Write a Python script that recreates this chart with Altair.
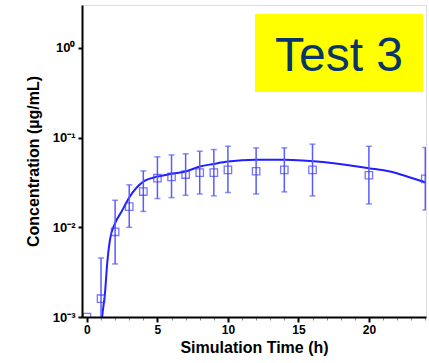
import altair as alt
import pandas as pd

# Observed data (mean, lower, upper)
obs_t = [0, 1, 2, 3, 4, 5, 6, 7, 8, 9, 10, 12, 14, 16, 20, 24]
obs_mean = [0.001, 0.0016, 0.0089, 0.017, 0.025, 0.0352, 0.0364, 0.0387, 0.0407, 0.0407, 0.0436, 0.0421, 0.0436, 0.0436, 0.038, 0.0346]
obs_lo = [None, 0.0005, 0.0039, 0.010, 0.015, 0.0209, 0.0214, 0.0227, 0.0235, 0.0224, 0.0244, 0.0235, 0.0248, 0.0224, 0.0182, 0.0156]
obs_hi = [None, 0.00455, 0.020, 0.0297, 0.0425, 0.061, 0.064, 0.0658, 0.0704, 0.0735, 0.080, 0.0767, 0.0767, 0.0843, 0.080, 0.0774]

# Simulated curve
sim_t = [1.0, 1.08, 1.28, 1.44, 1.63, 2.0, 2.46, 3, 4, 5, 6, 7, 8, 9, 10, 12, 14, 15.3, 17.5, 20, 21.5, 22.7, 24]
sim_c = [0.0007, 0.001, 0.00184, 0.0040, 0.0072, 0.0111, 0.0150, 0.0215, 0.0323, 0.0367, 0.0394, 0.0418, 0.0475, 0.0508, 0.054, 0.0564, 0.0564, 0.0555, 0.0518, 0.0456, 0.0418, 0.0368, 0.0318]

x_major = [0, 5, 10, 15, 20]
x_minor = list(range(0, 25))
y_ticks = [0.001, 0.01, 0.1, 1]
y_labels = ["10⁻³", "10⁻²", "10⁻¹", "10⁰"]
panel_label = "Test 3"

obs = pd.DataFrame({"t": obs_t, "c": obs_mean, "lo": obs_lo, "hi": obs_hi})
err = obs.dropna()
sim = pd.DataFrame({"t": sim_t, "c": sim_c})

label_expr = " : ".join(
    f"datum.value < {v * 1.5} ? '{l}'" for v, l in zip(y_ticks, y_labels)
) + " : ''"

xscale = alt.Scale(domain=[-0.35, 24.05], nice=False, zero=False)
yscale = alt.Scale(type="log", domain=[0.001, 3.0], nice=False)

xaxis = alt.Axis(
    title="Simulation Time (h)",
    orient="bottom",
    values=x_major,
    labelOverlap=False,
    labelFlush=False,
    tickSize=5,
    tickColor="black",
    tickWidth=2,
    grid=False,
    domainColor="black",
    domainWidth=2,
    labelFont="Liberation Sans",
    labelFontWeight="bold",
    labelFontSize=12,
    labelColor="black",
    labelPadding=2,
    titleFont="Liberation Sans",
    titleFontWeight="bold",
    titleFontSize=16,
    titleColor="black",
    titlePadding=4,
    zindex=2,
)

xaxis_minor = alt.Axis(
    title=None,
    orient="bottom",
    values=x_minor,
    labels=False,
    domain=False,
    tickSize=3,
    tickColor="#8a8a8a",
    tickWidth=1,
    grid=False,
    zindex=1,
)

yaxis = alt.Axis(
    title="Concentration (µg/mL)",
    values=y_ticks,
    labelExpr=label_expr,
    labelOverlap=False,
    tickSize=4,
    tickWidth=2,
    tickColor="black",
    grid=False,
    domainColor="black",
    domainWidth=2,
    labelFont="Liberation Sans",
    labelFontWeight="bold",
    labelFontSize=13,
    labelColor="black",
    labelPadding=3,
    titleFont="Liberation Sans",
    titleFontWeight="bold",
    titleFontSize=16,
    titleColor="black",
    titlePadding=11,
    zindex=2,
)

line = alt.Chart(sim).mark_line(color="#1f1fff", strokeWidth=2, clip=True, interpolate="monotone").encode(
    x=alt.X("t:Q", scale=xscale, axis=xaxis),
    y=alt.Y("c:Q", scale=yscale, axis=yaxis),
)

bars = alt.Chart(err).mark_rule(color="#5a5aff", strokeWidth=1.5, clip=True).encode(
    x=alt.X("t:Q", axis=xaxis_minor), y="lo:Q", y2="hi:Q"
)
cap_hi = alt.Chart(err).mark_tick(color="#5a5aff", thickness=1.5, size=6, orient="horizontal", clip=True).encode(
    x=alt.X("t:Q", axis=None), y="hi:Q"
)
cap_lo = alt.Chart(err).mark_tick(color="#5a5aff", thickness=1.5, size=6, orient="horizontal", clip=True).encode(
    x=alt.X("t:Q", axis=None), y="lo:Q"
)
pts = alt.Chart(obs).mark_point(shape="square", filled=False, color="#3c3cff", size=55, strokeWidth=1.3, clip=True).encode(
    x=alt.X("t:Q", axis=None), y="c:Q"
)

box = alt.Chart(pd.DataFrame({"label": [panel_label]})).mark_rect(color="#ffff00").encode(
    x=alt.value(173), x2=alt.value(341), y=alt.value(9), y2=alt.value(87)
)
txt = alt.Chart(pd.DataFrame({"label": [panel_label]})).mark_text(
    font="Liberation Sans", fontSize=48, color="#0b3566", align="center", baseline="alphabetic"
).encode(x=alt.value(257), y=alt.value(66), text="label:N")

chart = alt.layer(line, bars, cap_hi, cap_lo, pts, box, txt).resolve_axis(x="independent").properties(
    width=344,
    height=312,
    autosize=alt.AutoSizeParams(type="none"),
    padding={"left": 82, "top": 5, "right": 3, "bottom": 46},
).configure_view(stroke="#a0a0a0", strokeWidth=2).configure(background="white")

chart.save("out.html", embed_options={"renderer": "svg", "actions": False})
